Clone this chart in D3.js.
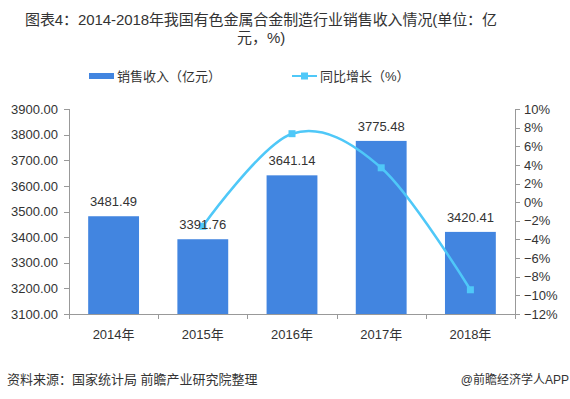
<!DOCTYPE html>
<html lang="zh">
<head>
<meta charset="utf-8">
<title>有色金属合金制造行业销售收入</title>
<script src="https://d3js.org/d3.v7.min.js"></script>
<style>
    body { margin: 0; background: #fff; font-family: "Liberation Sans", Arial, "Noto Sans CJK SC", sans-serif; }
    .axis path, .axis line { stroke: #999; shape-rendering: crispEdges; }
    .axis text { fill: #333; font-size: 13px; font-family: "Liberation Sans", Arial, "Noto Sans CJK SC", sans-serif; }
</style>
</head>
<body>
<div id="chart"></div>
<script>
var years = ["2014年", "2015年", "2016年", "2017年", "2018年"];
var sales = [3481.49, 3391.76, 3641.14, 3775.48, 3420.41];
var growth = [null, -2.58, 7.35, 3.69, -9.40];
var leftTicks = [3100, 3200, 3300, 3400, 3500, 3600, 3700, 3800, 3900];
var rightTicks = [-12, -10, -8, -6, -4, -2, 0, 2, 4, 6, 8, 10];

var W = 570, H = 399;
var margin = { top: 109, right: 55, bottom: 85, left: 69 };
var width = W - margin.left - margin.right,
    height = H - margin.top - margin.bottom;

var svg = d3.select("#chart").append("svg")
    .attr("width", W).attr("height", H);

// title
var title = svg.append("text")
    .style("font-size", "15px")
    .style("fill", "#333");
title.append("tspan").attr("x", 25).attr("y", 25)
    .attr("textLength", 472).attr("lengthAdjust", "spacing")
    .text("图表4：2014-2018年我国有色金属合金制造行业销售收入情况(单位：亿");
title.append("tspan").attr("x", 237).attr("y", 43).text("元，%)");

// legend
var legend = svg.append("g");
legend.append("rect").attr("x", 89).attr("y", 73).attr("width", 25).attr("height", 6).attr("fill", "#4285e0");
legend.append("text").attr("x", 117).attr("y", 81).style("font-size", "13px").style("fill", "#333")
    .text("销售收入（亿元）");
legend.append("line").attr("x1", 292).attr("x2", 317).attr("y1", 76).attr("y2", 76)
    .attr("stroke", "#4fc8f8").attr("stroke-width", 2);
legend.append("rect").attr("x", 301).attr("y", 72.5).attr("width", 7).attr("height", 7).attr("fill", "#4fc8f8");
legend.append("text").attr("x", 320).attr("y", 81).style("font-size", "13px").style("fill", "#333")
    .text("同比增长（%）");

var g = svg.append("g").attr("transform", "translate(" + margin.left + "," + margin.top + ")");

var x = d3.scaleBand().domain(years).range([0, width]).paddingInner(0.43).paddingOuter(0.215);
var y = d3.scaleLinear().domain([3100, 3900]).range([height, 0]);
var y2 = d3.scaleLinear().domain([-12, 10]).range([height, 0]);

// bars
g.selectAll(".bar").data(sales).enter().append("rect")
    .attr("class", "bar")
    .attr("x", function(d, i) { return x(years[i]); })
    .attr("y", function(d) { return y(d); })
    .attr("width", x.bandwidth())
    .attr("height", function(d) { return height - y(d); })
    .attr("fill", "#4285e0");

// axes
var xAxisScale = d3.scalePoint().domain(d3.range(6)).range([0, width]);
var xg = g.append("g").attr("class", "axis").attr("transform", "translate(0," + height + ")");
xg.append("line").attr("x1", 0).attr("x2", width).attr("y1", 0.5).attr("y2", 0.5);
xg.selectAll(".tk").data(d3.range(6)).enter().append("line")
    .attr("x1", function(d) { return Math.round(xAxisScale(d)) + 0.5; })
    .attr("x2", function(d) { return Math.round(xAxisScale(d)) + 0.5; })
    .attr("y1", 0).attr("y2", 5);
xg.selectAll("text").data(years).enter().append("text")
    .attr("x", function(d) { return x(d) + x.bandwidth() / 2; })
    .attr("y", 25)
    .attr("text-anchor", "middle")
    .text(function(d) { return d; });

g.append("g").attr("class", "axis")
    .call(d3.axisLeft(y).tickValues(leftTicks).tickSize(5).tickPadding(6)
        .tickFormat(function(d) { return d.toFixed(2); }))
    .call(function(s) { s.select(".domain").attr("d", "M0.5,0V" + height); });

g.append("g").attr("class", "axis").attr("transform", "translate(" + width + ",0)")
    .call(d3.axisRight(y2).tickValues(rightTicks).tickSize(5).tickPadding(4)
        .tickFormat(function(d) { return (d < 0 ? "\u2212" + (-d) : d) + "%"; }))
    .call(function(s) { s.select(".domain").attr("d", "M0.5,0V" + height); });

// growth line (no value for 2014)
var pts = growth.map(function(d, i) { return { i: i, v: d }; }).filter(function(d) { return d.v !== null; });
var line = d3.line()
    .x(function(d) { return x(years[d.i]) + x.bandwidth() / 2; })
    .y(function(d) { return y2(d.v); })
    .curve(d3.curveCardinal.tension(0));

g.append("path").datum(pts)
    .attr("d", line)
    .attr("fill", "none")
    .attr("stroke", "#4fc8f8")
    .attr("stroke-width", 2.5);

g.selectAll(".mk").data(pts).enter().append("rect")
    .attr("x", function(d) { return x(years[d.i]) + x.bandwidth() / 2 - 3.5; })
    .attr("y", function(d) { return y2(d.v) - 3.5; })
    .attr("width", 7).attr("height", 7)
    .attr("fill", "#4fc8f8");

// bar labels on top of the line
g.selectAll(".blabel").data(sales).enter().append("text")
    .attr("class", "blabel")
    .attr("x", function(d, i) { return x(years[i]) + x.bandwidth() / 2; })
    .attr("y", function(d) { return y(d) - 10; })
    .attr("text-anchor", "middle")
    .style("font-size", "13px")
    .style("fill", "#333")
    .text(function(d) { return d.toFixed(2); });

// footer
svg.append("text").attr("x", 7).attr("y", 384)
    .style("font-size", "13px").style("fill", "#333")
    .text("资料来源：国家统计局 前瞻产业研究院整理");
svg.append("text").attr("x", 569).attr("y", 384).attr("text-anchor", "end")
    .style("font-size", "12px").style("fill", "#333")
    .text("@前瞻经济学人APP");
</script>
</body>
</html>
